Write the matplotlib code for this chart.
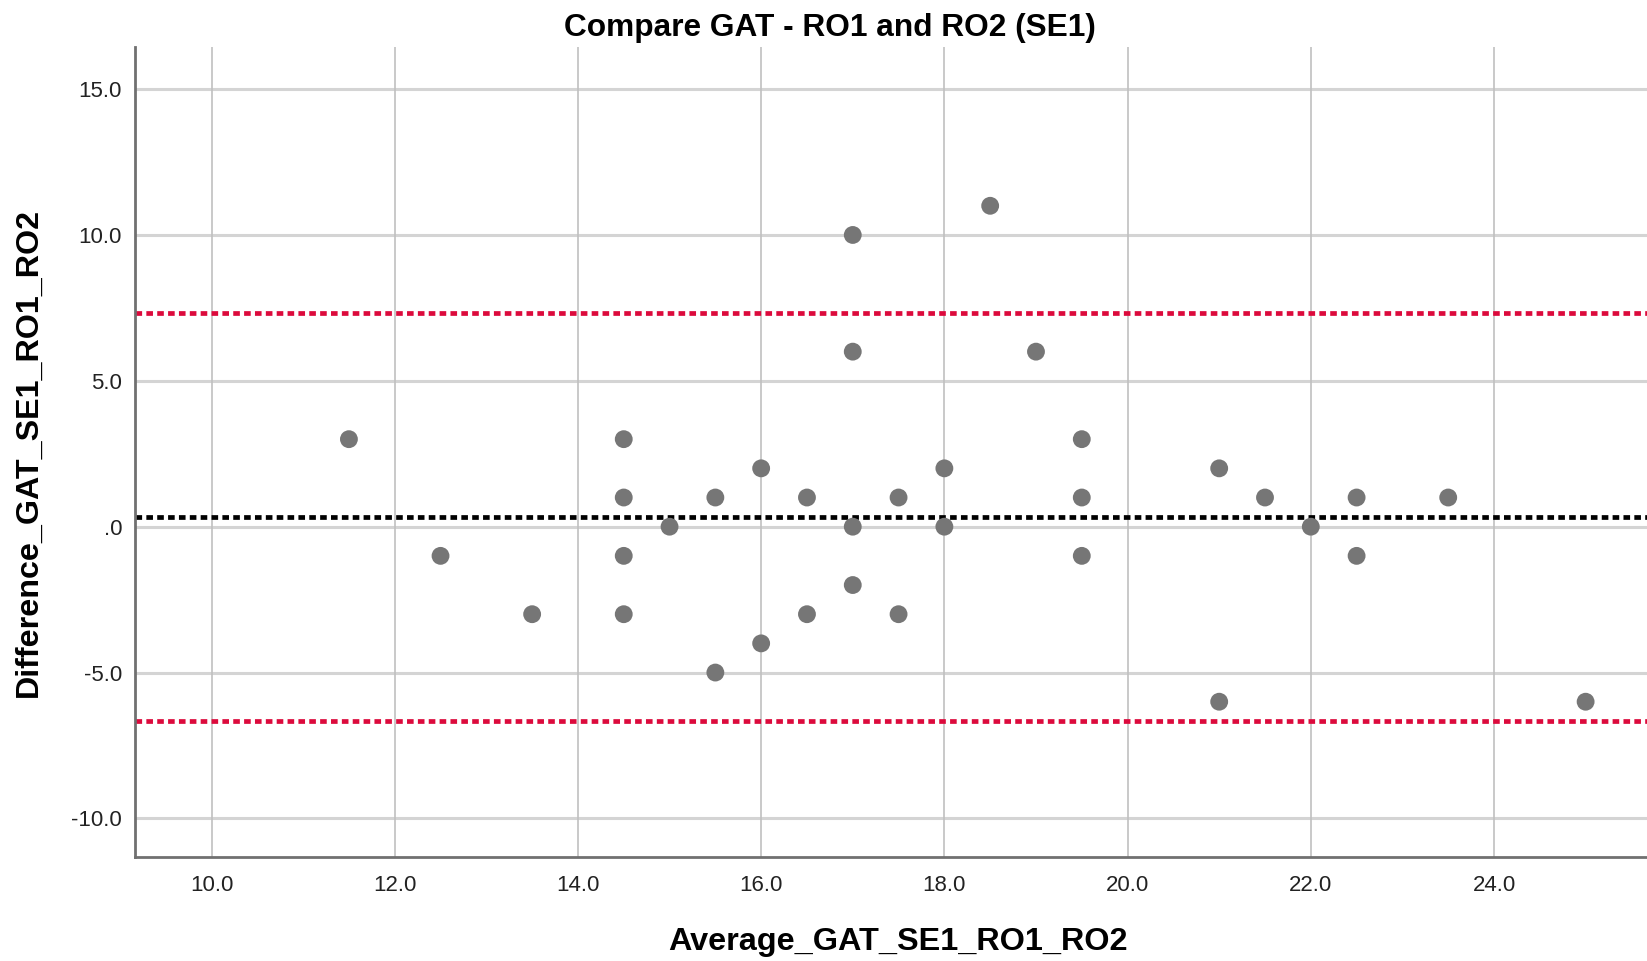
import numpy as np
import matplotlib
matplotlib.use("Agg")
import matplotlib.pyplot as plt

# --- Data ---
average = [11.5, 12.5, 13.5, 14.5, 14.5, 14.5, 14.5, 15.0, 15.5, 15.5,
           16.0, 16.0, 16.5, 16.5, 17.0, 17.0, 17.0, 17.0, 17.5, 17.5,
           18.0, 18.0, 18.5, 19.0, 19.5, 19.5, 19.5, 21.0, 21.0, 21.5,
           22.0, 22.5, 22.5, 23.5, 25.0]
difference = [3, -1, -3, 3, 1, -1, -3, 0, 1, -5,
              2, -4, 1, -3, 10, 6, 0, -2, 1, -3,
              2, 0, 11, 6, 3, 1, -1, 2, -6, 1,
              0, 1, -1, 1, -6]

mean_diff = 0.32
upper_loa = 7.31
lower_loa = -6.66

x_ticks = [10, 12, 14, 16, 18, 20, 22, 24]
y_ticks = [-10, -5, 0, 5, 10, 15]
y_ticklabels = ["-10.0", "-5.0", ".0", "5.0", "10.0", "15.0"]

plt.rcParams['font.family'] = ['Liberation Sans', 'DejaVu Sans']

fig = plt.figure(figsize=(16.47, 9.61), dpi=100)
ax = fig.add_axes([0.0817, 0.108, 1.0 - 0.0817, 0.951 - 0.108])

# grid
for yt in y_ticks:
    ax.axhline(yt, color="#d4d4d4", linewidth=2.2, zorder=1)
for xt in x_ticks:
    ax.axvline(xt, color="#c0c0c0", linewidth=1.2, zorder=1)

# reference lines (limits of agreement + mean difference)
dots = (0, (1.4, 0.9))
ax.axhline(upper_loa, color="#dc0a3c", linewidth=3.4, linestyle=dots, zorder=2)
ax.axhline(lower_loa, color="#dc0a3c", linewidth=3.4, linestyle=dots, zorder=2)
ax.axhline(mean_diff, color="black", linewidth=3.4, linestyle=dots, zorder=2)

# points
ax.scatter(average, difference, s=165, color="#767676", edgecolors="none", zorder=3)

ax.set_xlim(9.16, 25.67)
ax.set_ylim(-11.33, 16.44)

ax.set_xticks(x_ticks)
ax.set_xticklabels([f"{v:.1f}" for v in x_ticks], fontsize=16, color="#222222")
ax.set_yticks(y_ticks)
ax.set_yticklabels(y_ticklabels, fontsize=16, color="#222222")
ax.tick_params(axis="both", length=0)
ax.tick_params(axis="x", pad=13)
ax.tick_params(axis="y", pad=9)

for side in ["top", "right"]:
    ax.spines[side].set_visible(False)
for side in ["left", "bottom"]:
    ax.spines[side].set_color("#707070")
    ax.spines[side].set_linewidth(2.0)

ax.set_xlabel("Average_GAT_SE1_RO1_RO2", fontsize=23.3, fontweight="bold", labelpad=22)
ax.xaxis.label.set_x(0.505)
ax.set_ylabel("Difference_GAT_SE1_RO1_RO2", fontsize=23.2, fontweight="bold", labelpad=20)

fig.suptitle("Compare GAT - RO1 and RO2 (SE1)", x=0.504, y=0.986, va="top",
             fontsize=22.8, fontweight="bold")

fig.savefig("out.png", dpi=100)
